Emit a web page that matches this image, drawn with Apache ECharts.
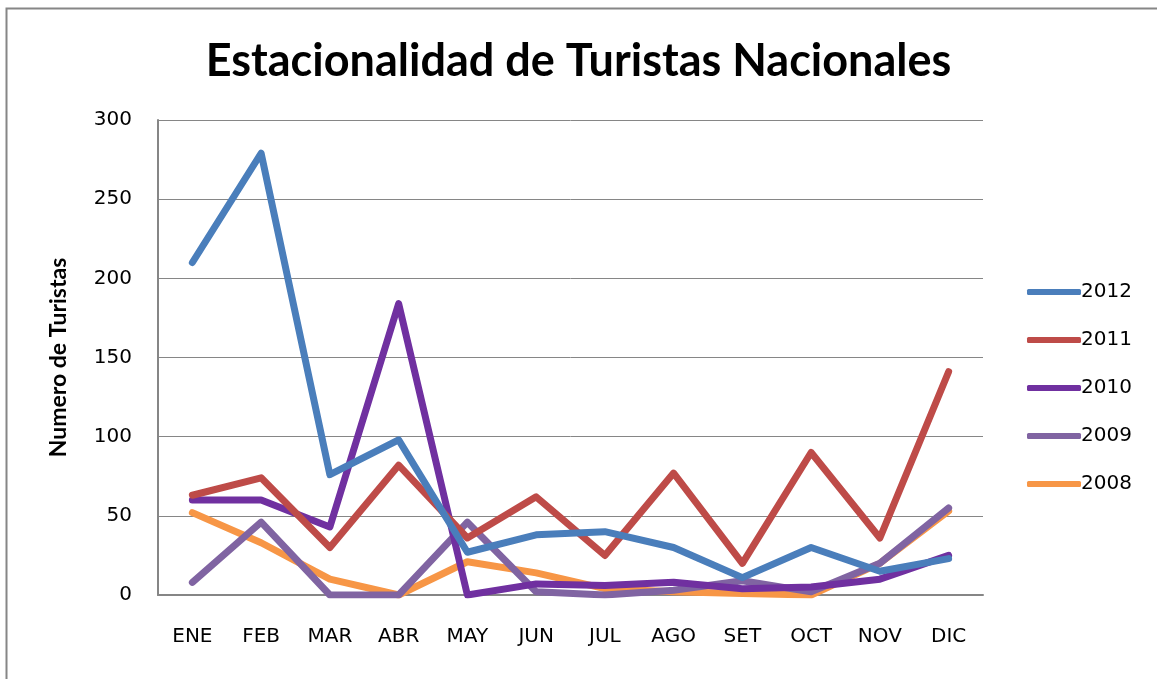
<!DOCTYPE html>
<html>
<head>
<meta charset="utf-8">
<script src="https://cdn.jsdelivr.net/npm/echarts@6/dist/echarts.min.js"></script>
<style>
  html, body { margin: 0; padding: 0; background: #fff; }
  #chart { width: 1157px; height: 679px; }
</style>
</head>
<body>
<div id="chart"></div>
<script>
// Datos
var meses = ['ENE', 'FEB', 'MAR', 'ABR', 'MAY', 'JUN', 'JUL', 'AGO', 'SET', 'OCT', 'NOV', 'DIC'];
var anios = ['2012', '2011', '2010', '2009', '2008'];
var t2012 = [210, 279, 76, 98, 27, 38, 40, 30, 11, 30, 15, 23];
var t2011 = [63, 74, 30, 82, 36, 62, 25, 77, 20, 90, 36, 141];
var t2010 = [60, 60, 43, 184, 0, 7, 6, 8, 4, 5, 10, 25];
var t2009 = [8, 46, 0, 0, 46, 2, 0, 3, 9, 2, 20, 55];
var t2008 = [52, 33, 10, 0, 21, 14, 4, 2, 1, 0, 20, 53];
var colores = ['#4A7EBB', '#BE4B48', '#7030A0', '#8064A2', '#F79646'];

var valores = [t2012, t2011, t2010, t2009, t2008];

var chart = echarts.init(document.getElementById('chart'));

var series = anios.map(function (a, i) {
    return {
        name: a,
        type: 'line',
        data: valores[i],
        symbol: 'none',
        lineStyle: { width: 7, color: colores[i], cap: 'round', join: 'round' },
        itemStyle: { color: colores[i] },
        z: 10 - i
    };
});

var fuente = 'DejaVu Sans';

var option = {
    animation: false,
    backgroundColor: '#fff',
    title: {
        text: 'Estacionalidad de Turistas Nacionales',
        left: 'center',
        top: 34,
        textStyle: { fontFamily: 'Lato', fontWeight: 'bold', fontSize: 45, color: '#000' }
    },
    graphic: [{
        type: 'rect',
        shape: { x: 6.5, y: 8.5, width: 1160, height: 690 },
        style: { fill: 'none', stroke: '#868686', lineWidth: 2 }
    }],
    legend: {
        orient: 'vertical',
        left: 1022,
        top: 277,
        itemWidth: 54,
        itemHeight: 6,
        itemGap: 28,
        icon: 'roundRect',
        data: anios,
        textStyle: { fontFamily: fuente, fontSize: 20, lineHeight: 20, color: '#000', padding: [0, 0, 0, -5] }
    },
    grid: { left: 158, right: 174, top: 120, bottom: 84 },
    xAxis: {
        type: 'category',
        data: meses,
        boundaryGap: true,
        axisLine: { lineStyle: { color: '#868686', width: 2 } },
        axisTick: { show: false },
        axisLabel: { color: '#000', fontSize: 20, margin: 32, fontFamily: fuente }
    },
    yAxis: {
        type: 'value',
        min: 0,
        max: 300,
        interval: 50,
        name: 'Numero de Turistas',
        nameLocation: 'middle',
        nameGap: 88,
        nameTextStyle: { fontSize: 23, fontWeight: 'bold', color: '#000', fontFamily: 'Lato' },
        axisLine: { show: true, lineStyle: { color: '#868686', width: 2 } },
        axisTick: { show: false },
        splitLine: { lineStyle: { color: '#868686', width: 1 } },
        axisLabel: { color: '#000', fontSize: 20, margin: 26, fontFamily: fuente }
    },
    series: series
};

chart.setOption(option);
</script>
</body>
</html>
